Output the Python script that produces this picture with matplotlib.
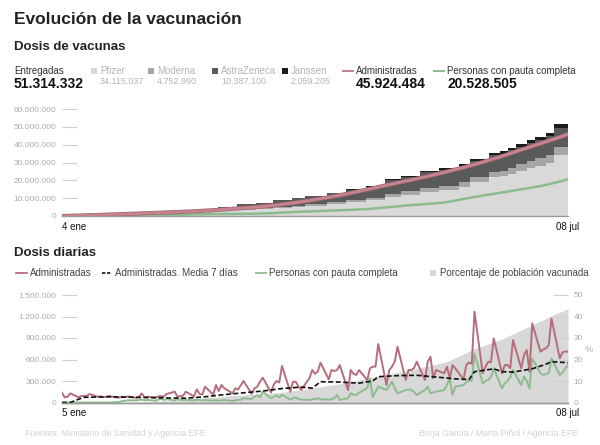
import matplotlib
matplotlib.use('Agg')
import matplotlib.pyplot as plt
import matplotlib.dates as mdates
from matplotlib.patches import Rectangle
from matplotlib.lines import Line2D
import numpy as np
import pandas as pd

plt.rcParams['font.family'] = ['Liberation Sans', 'DejaVu Sans']

# --- Dosis de vacunas: cumulative deliveries by brand (millions) ---
delivery_dates = ['2021-01-04', '2021-01-11', '2021-01-18', '2021-01-25', '2021-02-01',
                  '2021-02-09', '2021-02-16', '2021-02-23', '2021-03-02', '2021-03-09',
                  '2021-03-16', '2021-03-22', '2021-03-29', '2021-04-03', '2021-04-11',
                  '2021-04-18', '2021-04-25', '2021-05-02', '2021-05-08', '2021-05-15',
                  '2021-05-22', '2021-05-29', '2021-06-02', '2021-06-09', '2021-06-13',
                  '2021-06-16', '2021-06-19', '2021-06-23', '2021-06-26', '2021-06-30',
                  '2021-07-03']
pfizer = [0.35, 0.70, 1.05, 1.35, 1.70, 2.05, 2.40, 2.75, 3.15, 3.55, 4.00, 4.50, 5.00,
          5.60, 6.60, 7.60, 8.70, 10.8, 12.0, 13.6, 14.7, 16.5, 19.0, 21.6, 22.2, 23.6,
          25.3, 26.7, 28.3, 30.0, 34.115]
moderna = [0.0, 0.0, 0.05, 0.10, 0.15, 0.20, 0.25, 0.30, 0.40, 0.50, 0.60, 0.70, 0.80,
           0.90, 1.00, 1.20, 1.40, 1.60, 1.80, 2.00, 2.20, 2.40, 2.60, 2.90, 3.10, 3.30,
           3.60, 3.90, 4.10, 4.40, 4.753]
astrazeneca = [0.0, 0.0, 0.0, 0.0, 0.0, 0.05, 0.15, 0.85, 1.65, 2.45, 2.90, 3.80, 4.20,
               4.70, 5.40, 6.00, 6.40, 7.70, 8.10, 8.80, 8.90, 9.30, 9.40, 9.60, 9.70,
               9.90, 10.0, 10.1, 10.2, 10.3, 10.387]
janssen = [0.0, 0.0, 0.0, 0.0, 0.0, 0.0, 0.0, 0.0, 0.0, 0.0, 0.0, 0.0, 0.0, 0.0, 0.0,
           0.15, 0.30, 0.50, 0.60, 0.80, 0.90, 1.00, 1.10, 1.20, 1.30, 1.40, 1.60, 1.70,
           1.80, 1.90, 2.059]

week_dates = ['2021-01-04', '2021-01-11', '2021-01-18', '2021-01-25', '2021-02-01',
              '2021-02-08', '2021-02-15', '2021-02-22', '2021-03-01', '2021-03-08',
              '2021-03-15', '2021-03-22', '2021-03-29', '2021-04-05', '2021-04-12',
              '2021-04-19', '2021-04-26', '2021-05-03', '2021-05-10', '2021-05-17',
              '2021-05-24', '2021-05-31', '2021-06-07', '2021-06-14', '2021-06-21',
              '2021-06-28', '2021-07-05', '2021-07-08']
administradas_acum = [0.0, 0.28, 0.6, 1.0, 1.4, 1.8, 2.2, 2.7, 3.3, 4.1, 4.9, 5.9, 7.2,
                      8.8, 10.6, 12.7, 15.0, 17.4, 19.7, 22.0, 24.6, 27.3, 30.3, 33.6,
                      37.2, 40.7, 44.2, 45.924]
pauta_acum = [0.0, 0.0, 0.0, 0.01, 0.05, 0.3, 0.6, 0.9, 1.1, 1.2, 1.3, 1.6, 2.2, 2.6,
              3.0, 3.4, 3.9, 4.9, 5.9, 6.7, 7.6, 9.6, 11.5, 13.2, 15.0, 16.8, 19.3, 20.529]

# --- Dosis diarias (thousands), one value per weekday 5 ene - 08 jul ---
administradas_dia = [
    137, 72, 80, 128,
    72, 90, 90, 95, 118,
    80, 85, 75, 80, 90,
    70, 72, 80, 75, 85,
    65, 80, 128, 72, 80,
    70, 85, 90, 80, 118,
    151, 80, 90, 95, 151,
    85, 183, 120, 110, 221,
    110, 244, 160, 244, 200,
    128, 198, 180, 240, 300,
    120, 200, 220, 290, 346,
    140, 250, 300, 280, 509,
    150, 290, 290, 221, 175,
    342, 453, 400, 430, 556,
    323, 453, 440, 453, 523,
    174, 453, 400, 384, 453,
    314, 477, 500, 500, 816,
    244, 453, 500, 570, 779,
    314, 453, 453, 480, 570,
    314, 570, 639, 337, 453,
    407, 500, 337, 523, 477,
    323, 520, 560, 540, 1267,
    407, 500, 570, 560, 895,
    407, 523, 523, 480, 872,
    477, 663, 732, 430, 1104,
    709, 740, 756, 802, 1174,
    616, 700, 712, 709,
]
pauta_dia = [
    0, 0, 0, 0,
    0, 0, 0, 0, 0,
    0, 0, 0, 0, 0,
    5, 10, 20, 25, 30,
    30, 35, 40, 30, 35,
    25, 40, 50, 35, 45,
    30, 45, 40, 35, 40,
    30, 40, 35, 30, 35,
    25, 30, 25, 30, 35,
    20, 30, 35, 40, 60,
    50, 80, 105, 70, 151,
    60, 80, 100, 70, 110,
    40, 60, 70, 50, 40,
    35, 45, 50, 58, 45,
    40, 50, 60, 105, 35,
    60, 128, 110, 105, 137,
    200, 337, 81, 150, 221,
    174, 230, 290, 200, 128,
    174, 180, 174, 150, 105,
    174, 221, 128, 140, 151,
    174, 250, 337, 105, 221,
    244, 280, 314, 300, 686,
    267, 300, 314, 360, 477,
    198, 267, 300, 350, 453,
    244, 360, 300, 198, 616,
    407, 384, 400, 407, 616,
    384, 420, 477, 520,
]

media_dates = ['2021-01-05', '2021-01-08', '2021-01-11', '2021-01-13', '2021-01-22',
               '2021-02-01', '2021-02-10', '2021-02-19', '2021-02-26', '2021-03-05',
               '2021-03-12', '2021-03-19', '2021-03-26', '2021-04-02', '2021-04-06',
               '2021-04-09', '2021-04-16', '2021-04-23', '2021-04-28', '2021-04-30',
               '2021-05-07', '2021-05-14', '2021-05-21', '2021-05-28', '2021-06-02',
               '2021-06-04', '2021-06-11', '2021-06-14', '2021-06-18', '2021-06-25',
               '2021-06-30', '2021-07-02', '2021-07-08']
media_7 = [0, 0, 45, 72, 80, 72, 65, 60, 80, 110, 135, 160, 195, 215, 200, 290, 285,
           270, 300, 360, 375, 380, 355, 330, 320, 430, 470, 430, 425, 470, 535, 570, 555]

pct_dates = ['2021-01-05', '2021-01-25', '2021-02-04', '2021-02-14', '2021-02-24',
             '2021-03-06', '2021-03-16', '2021-03-26', '2021-04-05', '2021-04-15',
             '2021-04-25', '2021-05-05', '2021-05-15', '2021-05-25', '2021-06-04',
             '2021-06-14', '2021-06-24', '2021-07-04', '2021-07-08']
pct_vacunada = [0, 0, 0.3, 1.0, 2.0, 3.0, 3.8, 4.8, 6.5, 8.5, 11.0, 13.5, 16.0, 19.0,
                25.0, 29.5, 35.5, 41.5, 43.5]

PINK = '#c4848f'
PINK_D = '#b56d7b'
GREEN = '#8dbb8f'
TICK_C = '#aaaaaa'


def miles(v, scale):
    return '{:,}'.format(int(round(v * scale))).replace(',', '.')


fig = plt.figure(figsize=(6.0, 4.45), dpi=100)
W, H = 600., 445.


def fx(px):
    return px / W


def fy(py):
    return 1 - py / H


# titles
fig.text(fx(14), fy(20), 'Evolución de la vacunación', fontsize=12.5, fontweight='bold',
         color='#222222', va='center')
fig.text(fx(14), fy(47), 'Dosis de vacunas', fontsize=9.5, fontweight='bold',
         color='#222222', va='center')
fig.text(fx(14), fy(253), 'Dosis diarias', fontsize=9.5, fontweight='bold',
         color='#222222', va='center')

# top legend
fig.text(fx(14), fy(71), 'Entregadas', fontsize=7, color='#333333', va='center')
fig.text(fx(14), fy(84), '51.314.332', fontsize=10, fontweight='bold', color='#111111',
         va='center')
brand_leg = [('Pfizer', '34.115.037', '#d9d9d9', 91),
             ('Moderna', '4.752.990', '#a6a6a6', 148),
             ('AstraZeneca', '10.387.100', '#5a5a5a', 212),
             ('Janssen', '2.059.205', '#1c1c1c', 282)]
for name, total, col, px in brand_leg:
    fig.patches.append(Rectangle((fx(px), fy(74)), fx(6), 6 / H, transform=fig.transFigure,
                                 facecolor=col, edgecolor='none'))
    fig.text(fx(px + 9), fy(71), name, fontsize=7, color='#b5b5b5', va='center')
    fig.text(fx(px + 9), fy(82), total, fontsize=6.5, color='#b5b5b5', va='center')
for name, total, col, px in [('Administradas', '45.924.484', PINK, 343),
                             ('Personas con pauta completa', '20.528.505', GREEN, 434)]:
    fig.lines.append(Line2D([fx(px), fx(px + 10)], [fy(71), fy(71)], transform=fig.transFigure,
                            color=col, lw=1.5))
    fig.text(fx(px + 13), fy(71), name, fontsize=7, color='#333333', va='center')
    fig.text(fx(px + 13), fy(84), total, fontsize=10, fontweight='bold', color='#111111',
             va='center')

# --- top chart ---
ax1 = fig.add_axes([fx(62), fy(216), fx(506), 107 / H])
x_del = mdates.date2num(pd.to_datetime(delivery_dates))
x_end = mdates.date2num(pd.Timestamp('2021-07-08'))
widths = np.diff(np.append(x_del, x_end))
bottom = np.zeros(len(x_del))
for vals, col in [(pfizer, '#d9d9d9'), (moderna, '#a6a6a6'), (astrazeneca, '#5a5a5a'),
                  (janssen, '#1c1c1c')]:
    ax1.bar(x_del, vals, width=widths, bottom=bottom, align='edge', color=col,
            edgecolor='none', linewidth=0)
    bottom = bottom + np.array(vals)
x_week = mdates.date2num(pd.to_datetime(week_dates))
ax1.plot(x_week, pauta_acum, color=GREEN, lw=1.8, zorder=3)
ax1.plot(x_week, administradas_acum, color='#a56470', lw=3.0, zorder=4)
ax1.plot(x_week, administradas_acum, color=PINK, lw=2.0, zorder=5)

x_start = mdates.date2num(pd.Timestamp('2021-01-04'))
ax1.set_xlim(x_start, x_end)
ax1.set_ylim(0, 60)
ax1.set_yticks(range(0, 61, 10))
ax1.set_yticklabels([miles(v, 1e6) for v in range(0, 61, 10)])
ax1.set_xticks([x_start, x_end])
ax1.set_xticklabels(['4 ene', '08 jul'])
ax1.get_xticklabels()[0].set_ha('left')

# --- bottom chart ---
ax2 = fig.add_axes([fx(62), fy(402.5), fx(506), 107.5 / H])
ax3 = ax2.twinx()
ax2.set_zorder(ax3.get_zorder() + 1)
ax2.patch.set_visible(False)

x_pct = mdates.date2num(pd.to_datetime(pct_dates))
ax3.fill_between(x_pct, 0, pct_vacunada, color='#d8d8d8', linewidth=0)
x_day = mdates.date2num(pd.bdate_range('2021-01-05', '2021-07-08'))
ax2.plot(x_day, pauta_dia, color=GREEN, lw=1.4)
ax2.plot(x_day, administradas_dia, color=PINK_D, lw=1.4)
x_media = mdates.date2num(pd.to_datetime(media_dates))
ax2.plot(x_media, media_7, color='#111111', lw=1.2, ls=(0, (3, 1.5)))

x0b = mdates.date2num(pd.Timestamp('2021-01-05'))
ax2.set_xlim(x0b, x_end)
ax2.set_ylim(0, 1500)
ax3.set_ylim(0, 50)
ax2.set_yticks(range(0, 1501, 300))
ax2.set_yticklabels([miles(v, 1e3) for v in range(0, 1501, 300)])
ax3.set_yticks(range(0, 51, 10))
ax2.set_xticks([x0b, x_end])
ax2.set_xticklabels(['5 ene', '08 jul'])
ax2.get_xticklabels()[0].set_ha('left')
fig.text(fx(589), fy(350), '%', fontsize=6.5, color=TICK_C, va='center', ha='center')

for ax in (ax1, ax2, ax3):
    for s in ('top', 'left', 'right'):
        ax.spines[s].set_visible(False)
    ax.spines['bottom'].set_color('#999999')
    ax.spines['bottom'].set_linewidth(1.0)
    ax.tick_params(axis='y', direction='in', length=11, width=0.8, color='#d0d0d0',
                   labelsize=6, labelcolor=TICK_C, pad=4)
    ax.tick_params(axis='x', length=0, labelsize=7, labelcolor='#111111', pad=4)

# bottom legend
fig.lines.append(Line2D([fx(16), fx(27)], [fy(273), fy(273)], transform=fig.transFigure,
                        color=PINK_D, lw=1.3))
fig.text(fx(30), fy(273), 'Administradas', fontsize=7, color='#444444', va='center')
fig.lines.append(Line2D([fx(102), fx(112)], [fy(273), fy(273)], transform=fig.transFigure,
                        color='#111111', lw=1.2, ls=(0, (2, 1))))
fig.text(fx(115), fy(273), 'Administradas. Media 7 días', fontsize=7, color='#444444',
         va='center')
fig.lines.append(Line2D([fx(256), fx(266)], [fy(273), fy(273)], transform=fig.transFigure,
                        color=GREEN, lw=1.3))
fig.text(fx(269), fy(273), 'Personas con pauta completa', fontsize=7, color='#444444',
         va='center')
fig.patches.append(Rectangle((fx(430), fy(276)), fx(6), 6 / H, transform=fig.transFigure,
                             facecolor='#d8d8d8', edgecolor='none'))
fig.text(fx(440), fy(273), 'Porcentaje de población vacunada', fontsize=7,
         color='#444444', va='center')

# footer
fig.text(fx(25), fy(434), 'Fuentes: Ministerio de Sanidad y Agencia EFE', fontsize=6.3,
         color='#d2d2d2', va='center')
fig.text(fx(578), fy(434), 'Borja García / Marta Piñol / Agencia EFE', fontsize=6.3,
         color='#d2d2d2', va='center', ha='right')

fig.savefig('out.png', dpi=100)
